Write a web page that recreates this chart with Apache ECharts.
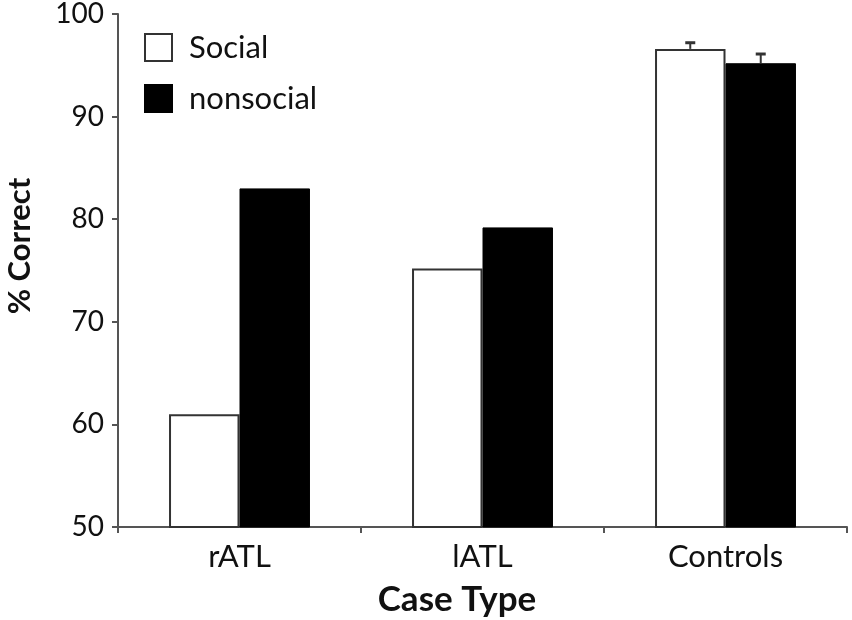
<!DOCTYPE html>
<html>
<head>
<meta charset="utf-8">
<script src="https://cdn.jsdelivr.net/npm/echarts@6/dist/echarts.min.js"></script>
<style>html,body{margin:0;padding:0;background:#fff;}#c{width:852px;height:620px;}</style>
</head>
<body>
<div id="c"></div>
<script>
var categories = ['rATL', 'lATL', 'Controls'];
var socialValues = [61.0, 75.2, 96.6];
var nonsocialValues = [83.0, 79.2, 95.2];
var socialErr = [null, null, 0.6];
var nonsocialErr = [null, null, 0.9];
var yTicks = [50, 60, 70, 80, 90, 100];

var FONT = 'Lato';
var GAP = 0.42;

function errSeries(name, vals, errs, side) {
  var data = [];
  for (var i = 0; i < vals.length; i++) {
    if (errs[i] != null) data.push([i, vals[i], errs[i]]);
  }
  return {
    type: 'custom',
    name: name + ' err',
    z: 5,
    renderItem: function (params, api) {
      var idx = api.value(0);
      var v = api.value(1);
      var e = api.value(2);
      var band = api.size([1, 0])[0];
      var barW = band * (1 - GAP) / 2;
      var base = api.coord([idx, v]);
      var top = api.coord([idx, v + e]);
      var x = base[0] + side * barW / 2;
      var cap = 5;
      return {
        type: 'group',
        children: [
          { type: 'line', shape: { x1: x, y1: base[1], x2: x, y2: top[1] }, style: { stroke: '#333', lineWidth: 2 } },
          { type: 'line', shape: { x1: x - cap, y1: top[1], x2: x + cap, y2: top[1] }, style: { stroke: '#333', lineWidth: 3 } }
        ]
      };
    },
    data: data,
    silent: true
  };
}

var chart = echarts.init(document.getElementById('c'), null, { renderer: 'canvas' });
chart.setOption({
  backgroundColor: '#fff',
  animation: false,
  textStyle: { fontFamily: FONT },
  grid: { left: 118, right: 5, top: 13, bottom: 93 },
  legend: {
    left: 139, top: 27, orient: 'vertical',
    itemWidth: 27, itemHeight: 27, itemGap: 20,
    icon: 'rect',
    data: ['Social', 'nonsocial'],
    textStyle: { fontFamily: FONT, fontSize: 31, color: '#111', padding: [0, 0, 0, 12] }
  },
  xAxis: {
    type: 'category',
    data: categories,
    axisLine: { lineStyle: { color: '#555', width: 2 } },
    axisTick: { show: true, length: 6, lineStyle: { color: '#555', width: 2 } },
    axisLabel: { fontFamily: FONT, fontSize: 31, color: '#111', margin: 14 }
  },
  yAxis: {
    type: 'value',
    min: yTicks[0], max: yTicks[yTicks.length - 1], interval: 10,
    splitLine: { show: false },
    axisLine: { show: true, lineStyle: { color: '#555', width: 2 } },
    axisTick: { show: true, length: 6, lineStyle: { color: '#555', width: 2 } },
    axisLabel: { fontFamily: FONT, fontSize: 28, color: '#111', margin: 14 }
  },
  graphic: [
    { type: 'text', x: 457, y: 600, style: { text: 'Case Type', fontFamily: FONT, fontSize: 35, fontWeight: 'bold', fill: '#111', textAlign: 'center', textVerticalAlign: 'middle' } },
    { type: 'text', rotation: Math.PI / 2, x: 20, y: 246, style: { text: '% Correct', fontFamily: FONT, fontSize: 31, fontWeight: 'bold', fill: '#111', textAlign: 'center', textVerticalAlign: 'middle' } }
  ],
  series: [
    {
      name: 'Social', type: 'bar', data: socialValues,
      barGap: '0%', barCategoryGap: (GAP * 100) + '%',
      itemStyle: { color: '#fff', borderColor: '#333', borderWidth: 2 }
    },
    {
      name: 'nonsocial', type: 'bar', data: nonsocialValues,
      barGap: '0%', barCategoryGap: (GAP * 100) + '%',
      itemStyle: { color: '#000', borderColor: '#000', borderWidth: 1 }
    },
    errSeries('Social', socialValues, socialErr, -1),
    errSeries('nonsocial', nonsocialValues, nonsocialErr, 1)
  ]
});
</script>
</body>
</html>
